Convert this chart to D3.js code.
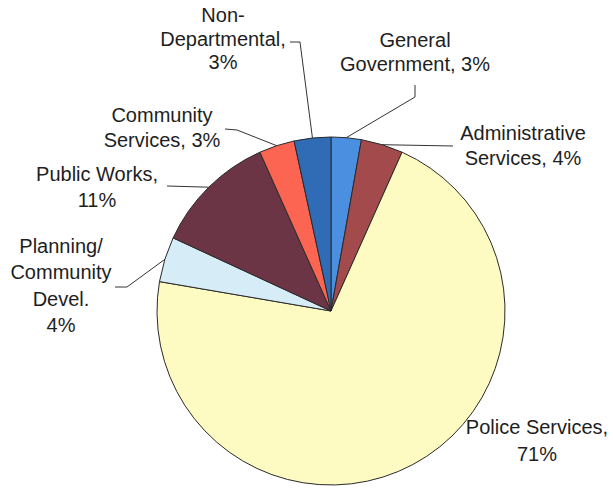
<!DOCTYPE html>
<html>
<head>
<meta charset="utf-8">
<script src="https://cdn.jsdelivr.net/npm/d3@7"></script>
<style>
  body { margin: 0; background: #fff; }
  svg text { font-family: "Liberation Sans", Arial, sans-serif; fill: #1e1e1e; }
</style>
</head>
<body>
<svg width="613" height="489"></svg>
<script>
// slices clockwise from 12 o'clock
const departments = ['General Government', 'Administrative Services', 'Police Services',
  'Planning/Community Devel.', 'Public Works', 'Community Services', 'Non-Departmental'];
const shares = [2.8, 3.9, 71.0, 4.2, 11.4, 3.3, 3.4];
const sliceColors = ['#4a8fe0', '#a24a4c', '#fefbc2', '#d6ecf6', '#6c3546', '#fb6552', '#2f6cb5'];
// label text, {p} gets the rounded percent
const labelText = [
  ['General', 'Government, {p}'],
  ['Administrative', 'Services, {p}'],
  ['Police Services,', '{p}'],
  ['Planning/', 'Community', 'Devel.', '{p}'],
  ['Public Works,', '{p}'],
  ['Community', 'Services, {p}'],
  ['Non-', 'Departmental,', '{p}']
];

// where each label sits and where its leader line starts
const labelPos = [
  {x: 415, y: 47, lh: 23.5, leader: [[415, 85], [415, 97]]},
  {x: 523, y: 140, lh: 25, leader: [[453, 146]]},
  {x: 537, y: 434, lh: 27, leader: null},
  {x: 61, y: 253, lh: 26.3, leader: [[115, 287], [127, 287]]},
  {x: 97, y: 181, lh: 25.5, leader: [[167, 186]]},
  {x: 162, y: 122, lh: 25, leader: [[225, 129], [237, 130]]},
  {x: 223, y: 22, lh: 23.5, leader: [[290, 42], [300, 42]]}
];

let svg = d3.select('svg');
let cx = 331, cy = 311, r = 174;

let pie = d3.pie().sort(null).value(d => d);
let arcs = pie(shares);
let arc = d3.arc().innerRadius(0).outerRadius(r);

let g = svg.append('g').attr('transform', `translate(${cx},${cy})`);

g.selectAll('.slice')
  .data(arcs)
  .enter()
  .append('path')
  .attr('class', 'slice')
  .attr('d', arc)
  .attr('fill', (d, i) => sliceColors[i])
  .attr('stroke', '#2a2a2a')
  .attr('stroke-width', 1);

// leader lines, from label to the middle of the slice edge
let edge = d3.arc().innerRadius(r).outerRadius(r);
arcs.forEach(function(a, i) {
  let lp = labelPos[i];
  if (!lp.leader) return;
  let c = edge.centroid(a);
  let pts = lp.leader.concat([[c[0] + cx, c[1] + cy]]);
  svg.append('path')
    .attr('d', d3.line()(pts))
    .attr('fill', 'none')
    .attr('stroke', '#333')
    .attr('stroke-width', 1);
});

labelText.forEach(function(lines, i) {
  let lp = labelPos[i];
  let pct = Math.round(shares[i]) + '%';
  let t = svg.append('text')
    .attr('text-anchor', 'middle')
    .attr('font-size', '20px');
  lines.forEach(function(line, k) {
    t.append('tspan')
      .attr('x', lp.x)
      .attr('y', lp.y + k * lp.lh)
      .text(line.replace('{p}', pct));
  });
});
</script>
</body>
</html>
